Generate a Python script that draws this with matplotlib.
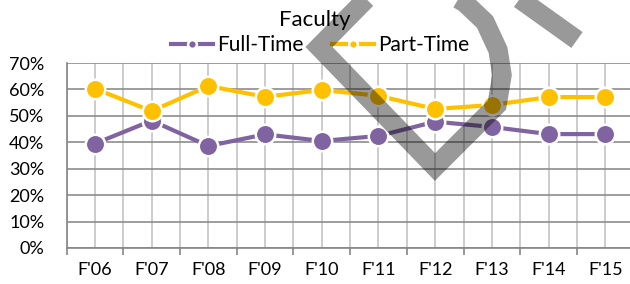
import matplotlib.pyplot as plt
from matplotlib.lines import Line2D
from matplotlib.ticker import FuncFormatter

plt.rcParams['font.family'] = ['Lato', 'DejaVu Sans']

# data
terms = ["F'06", "F'07", "F'08", "F'09", "F'10", "F'11", "F'12", "F'13", "F'14", "F'15"]
full_time = [39.5, 48.2, 38.6, 43.0, 40.5, 42.4, 47.8, 45.8, 43.1, 43.1]
part_time = [60.3, 51.8, 61.3, 57.2, 59.8, 57.6, 52.6, 54.1, 57.1, 57.1]

purple = '#8064A2'
gold = '#FFC000'

fig = plt.figure(figsize=(6.3, 2.84), dpi=100)
ax = fig.add_axes([66.6 / 630, 1 - 248 / 284, 567 / 630, 185 / 284])

x = range(len(terms))
ax.plot(x, [v / 100 for v in full_time], color=purple, lw=3, marker='o', ms=14,
        mfc=purple, mec='white', mew=1.8, label='Full-Time', zorder=3)
ax.plot(x, [v / 100 for v in part_time], color=gold, lw=3, marker='o', ms=14,
        mfc=gold, mec='white', mew=1.8, label='Part-Time', zorder=4)

ax.set_xlim(-0.5, len(terms) - 0.5)
ax.set_ylim(0, 0.7)
ax.set_yticks([i / 10 for i in range(8)])
ax.yaxis.set_major_formatter(FuncFormatter(lambda v, p: f'{v * 100:.0f}%'))
ax.set_xticks(list(x))
ax.set_xticklabels(terms)
ax.set_xticks([i - 0.5 for i in range(len(terms) + 1)], minor=True)

ax.tick_params(axis='x', which='major', length=0, pad=10, labelsize=13, labelcolor='black')
ax.tick_params(axis='x', which='minor', length=5, width=1.2, color='#868686', direction='out')
ax.tick_params(axis='y', length=0, pad=16, labelsize=13, labelcolor='black')

ax.grid(axis='y', color='#8c8c8c', lw=1.2)
ax.grid(axis='x', which='both', color='#c4c4c4', lw=1.2)
ax.set_axisbelow(True)
for s in ['top', 'right']:
    ax.spines[s].set_visible(False)
for s in ['left', 'bottom']:
    ax.spines[s].set_color('#868686')
    ax.spines[s].set_linewidth(1.2)

fig.text(315 / 630, 1 - 20 / 284, 'Faculty', ha='center', va='center', fontsize=16)
fig.legend(loc='center', bbox_to_anchor=(320 / 630, 1 - 45 / 284), ncol=2, frameon=False,
           fontsize=15, markerscale=0.45, handlelength=2.0, handletextpad=0.2,
           columnspacing=1.4, borderaxespad=0, borderpad=0)

# grey watermark strokes over the chart
wm = dict(color='black', alpha=0.4, lw=14, solid_joinstyle='miter', solid_capstyle='butt',
          transform=fig.transFigure, zorder=10)
shape_px = [(385, -20), (319, 47), (435, 167), (497, 105), (502, 75), (498, 50),
            (485, 22), (465, 3), (440, -12), (415, -20)]
fig.add_artist(Line2D([p[0] / 630 for p in shape_px], [1 - p[1] / 284 for p in shape_px], **wm))
bar_px = [(500, -15), (577, 40)]
fig.add_artist(Line2D([p[0] / 630 for p in bar_px], [1 - p[1] / 284 for p in bar_px], **wm))

fig.savefig('out.png', dpi=100)
